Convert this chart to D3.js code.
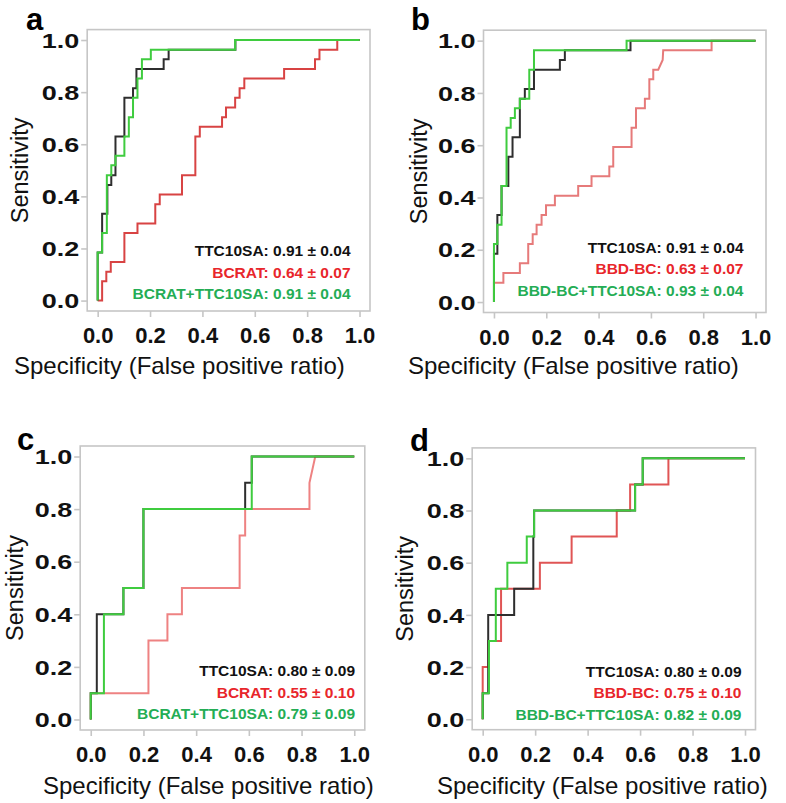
<!DOCTYPE html>
<html>
<head>
<meta charset="utf-8">
<script src="https://cdn.jsdelivr.net/npm/d3@7"></script>
<style>
  html, body { margin: 0; padding: 0; background: #fff; }
  svg { display: block; font-family: "Liberation Sans", Arial, sans-serif; }
</style>
</head>
<body>
<svg id="chart" width="786" height="803"></svg>
<script>
// ---------------- data ----------------
const tickValues = [0, 0.2, 0.4, 0.6, 0.8, 1.0];
const tickLabels = ["0.0", "0.2", "0.4", "0.6", "0.8", "1.0"];
const panelLetters = ["a", "b", "c", "d"];
const xTitle = "Specificity (False positive ratio)";
const yTitle = "Sensitivity";

// Panel a — [false positive ratio, sensitivity]
const aTTC = [[0,0],[0,0.185],[0.017,0.185],[0.017,0.333],[0.037,0.333],[0.037,0.444],[0.052,0.444],[0.052,0.481],[0.068,0.481],[0.068,0.63],[0.102,0.63],[0.102,0.778],[0.135,0.778],[0.135,0.815],[0.148,0.815],[0.148,0.889],[0.252,0.889],[0.252,0.926],[0.271,0.926],[0.271,0.963],[0.526,0.963],[0.526,1],[1,1]];
const aRisk = [[0,0],[0.017,0],[0.017,0.074],[0.033,0.074],[0.033,0.111],[0.05,0.111],[0.05,0.148],[0.102,0.148],[0.102,0.259],[0.152,0.259],[0.152,0.296],[0.22,0.296],[0.22,0.37],[0.237,0.37],[0.237,0.407],[0.322,0.407],[0.322,0.481],[0.373,0.481],[0.373,0.63],[0.39,0.63],[0.39,0.667],[0.475,0.667],[0.475,0.704],[0.49,0.704],[0.49,0.741],[0.525,0.741],[0.525,0.778],[0.542,0.778],[0.542,0.815],[0.56,0.815],[0.56,0.852],[0.712,0.852],[0.712,0.889],[0.83,0.889],[0.83,0.926],[0.847,0.926],[0.847,0.963],[0.915,0.963],[0.915,1],[1,1]];
const aComb = [[0,0],[0,0.185],[0.017,0.185],[0.017,0.259],[0.035,0.259],[0.035,0.481],[0.052,0.481],[0.052,0.519],[0.068,0.519],[0.068,0.556],[0.102,0.556],[0.102,0.63],[0.119,0.63],[0.119,0.704],[0.135,0.704],[0.135,0.778],[0.152,0.778],[0.152,0.852],[0.169,0.852],[0.169,0.926],[0.203,0.926],[0.203,0.963],[0.525,0.963],[0.525,1],[1,1]];

// Panel b
const bTTC = [[0,0],[0,0.185],[0.013,0.185],[0.013,0.333],[0.029,0.333],[0.029,0.444],[0.055,0.444],[0.055,0.556],[0.071,0.556],[0.071,0.63],[0.099,0.63],[0.099,0.778],[0.118,0.778],[0.118,0.815],[0.153,0.815],[0.153,0.889],[0.252,0.889],[0.252,0.926],[0.271,0.926],[0.271,0.963],[0.522,0.963],[0.522,1],[1,1]];
const bRisk = [[0,0],[0,0.074],[0.036,0.074],[0.036,0.111],[0.099,0.111],[0.099,0.148],[0.131,0.148],[0.131,0.222],[0.148,0.222],[0.148,0.259],[0.163,0.259],[0.163,0.296],[0.182,0.296],[0.182,0.333],[0.199,0.333],[0.199,0.37],[0.233,0.37],[0.233,0.407],[0.322,0.407],[0.322,0.444],[0.373,0.444],[0.373,0.481],[0.441,0.481],[0.441,0.519],[0.456,0.519],[0.456,0.593],[0.526,0.593],[0.526,0.667],[0.543,0.667],[0.543,0.741],[0.577,0.741],[0.577,0.778],[0.594,0.778],[0.594,0.852],[0.609,0.852],[0.609,0.889],[0.628,0.889],[0.645,0.926],[0.647,0.963],[0.832,0.963],[0.832,1],[1,1]];
const bComb = [[0,0],[0,0.222],[0.013,0.222],[0.013,0.296],[0.029,0.296],[0.029,0.444],[0.048,0.444],[0.048,0.667],[0.064,0.667],[0.064,0.704],[0.08,0.704],[0.08,0.741],[0.099,0.741],[0.099,0.778],[0.135,0.778],[0.135,0.889],[0.153,0.889],[0.153,0.963],[0.507,0.963],[0.507,1],[1,1]];

// Panel c
const cTTC = [[0,0],[0,0.1],[0.023,0.1],[0.023,0.4],[0.05,0.4],[0.124,0.4],[0.124,0.5],[0.2,0.5],[0.2,0.8],[0.586,0.8],[0.586,0.9],[0.611,0.9],[0.611,1],[1,1]];
const cRisk = [[0,0],[0,0.1],[0.219,0.1],[0.219,0.3],[0.291,0.3],[0.291,0.4],[0.346,0.4],[0.346,0.5],[0.565,0.5],[0.565,0.7],[0.586,0.7],[0.586,0.8],[0.83,0.8],[0.83,0.9],[0.852,1],[1,1]];
const cComb = [[0,0],[0,0.1],[0.05,0.1],[0.05,0.4],[0.124,0.4],[0.124,0.5],[0.2,0.5],[0.2,0.8],[0.611,0.8],[0.611,1],[1,1]];

// Panel d
const dTTC = [[0,0],[0,0.1],[0.021,0.1],[0.021,0.4],[0.12,0.4],[0.12,0.5],[0.193,0.5],[0.193,0.7],[0.196,0.7],[0.196,0.8],[0.581,0.8],[0.581,0.9],[0.61,0.9],[0.61,1],[1,1]];
const dRisk = [[0,0],[0,0.2],[0.021,0.2],[0.021,0.3],[0.07,0.3],[0.07,0.5],[0.218,0.5],[0.218,0.6],[0.339,0.6],[0.339,0.7],[0.511,0.7],[0.511,0.8],[0.562,0.8],[0.562,0.9],[0.708,0.9],[0.708,1],[1,1]];
const dComb = [[0,0],[0,0.1],[0.024,0.1],[0.024,0.3],[0.05,0.3],[0.05,0.5],[0.094,0.5],[0.094,0.6],[0.168,0.6],[0.168,0.7],[0.196,0.7],[0.196,0.8],[0.581,0.8],[0.581,0.9],[0.61,0.9],[0.61,1],[1,1]];

// Legend texts (AUC ± SE)
const aLegend = ["TTC10SA: 0.91 \u00b1 0.04", "BCRAT: 0.64 \u00b1 0.07", "BCRAT+TTC10SA: 0.91 \u00b1 0.04"];
const bLegend = ["TTC10SA: 0.91 \u00b1 0.04", "BBD-BC: 0.63 \u00b1 0.07", "BBD-BC+TTC10SA: 0.93 \u00b1 0.04"];
const cLegend = ["TTC10SA: 0.80 \u00b1 0.09", "BCRAT: 0.55 \u00b1 0.10", "BCRAT+TTC10SA: 0.79 \u00b1 0.09"];
const dLegend = ["TTC10SA: 0.80 \u00b1 0.09", "BBD-BC: 0.75 \u00b1 0.10", "BBD-BC+TTC10SA: 0.82 \u00b1 0.09"];

// ---------------- layout / style ----------------
const panels = [
  { letter: panelLetters[0], frame: {l: 87.2, r: 370, t: 29.6, b: 311}, series: [aRisk, aTTC, aComb], legend: aLegend, red: "#d84343",
    letterPos: [26, 30], yTitleX: 28, xTitleX: 14, xTitleY: 374, legendX: 350.5, legendY: 256 },
  { letter: panelLetters[1], frame: {l: 483.5, r: 766, t: 30.2, b: 312.5}, series: [bRisk, bTTC, bComb], legend: bLegend, red: "#e67a7a",
    letterPos: [411, 30], yTitleX: 427, xTitleX: 408, xTitleY: 374, legendX: 743.5, legendY: 252.5 },
  { letter: panelLetters[2], frame: {l: 80.2, r: 364.8, t: 446, b: 730}, series: [cRisk, cTTC, cComb], legend: cLegend, red: "#ee8282",
    letterPos: [17, 450], yTitleX: 23, xTitleX: 43, xTitleY: 794, legendX: 355, legendY: 676 },
  { letter: panelLetters[3], frame: {l: 472.2, r: 755.5, t: 447.9, b: 729.7}, series: [dRisk, dTTC, dComb], legend: dLegend, red: "#e05555",
    letterPos: [410, 451], yTitleX: 413, xTitleX: 437, xTitleY: 794, legendX: 741.5, legendY: 676.5 }
];

const blackLine = "#2e2e2e";
const greenLine = "#3fcc3f";
const legendColors = ["#111111", "#e8262b", "#24ad55"];
const frameColor = "#c6c6c6";

const svg = d3.select("#chart");

panels.forEach(p => {
  const f = p.frame;
  const x = d3.scaleLinear().domain([-0.04, 1.04]).range([f.l, f.r]);
  const y = d3.scaleLinear().domain([-0.04, 1.04]).range([f.b, f.t]);
  const g = svg.append("g");

  // frame
  g.append("rect")
    .attr("x", f.l).attr("y", f.t)
    .attr("width", f.r - f.l).attr("height", f.b - f.t)
    .attr("fill", "none").attr("stroke", frameColor).attr("stroke-width", 1.6);

  // y axis
  const yAxis = d3.axisLeft(y).tickValues(tickValues).tickSize(6).tickFormat("");
  const ya = g.append("g").attr("transform", `translate(${f.l},0)`).call(yAxis);
  ya.select(".domain").remove();
  ya.selectAll(".tick line").attr("stroke", frameColor).attr("stroke-width", 1.6);
  ya.selectAll(".tick").append("text")
    .attr("text-anchor", "end")
    .attr("transform", "translate(-8,0) scale(1.35,1)")
    .attr("dy", "0.36em")
    .attr("fill", "#111")
    .attr("font-weight", "bold")
    .attr("font-size", 20)
    .text((d, i) => tickLabels[i]);

  // x axis
  const xAxis = d3.axisBottom(x).tickValues(tickValues).tickSize(6).tickFormat("");
  const xa = g.append("g").attr("transform", `translate(0,${f.b})`).call(xAxis);
  xa.select(".domain").remove();
  xa.selectAll(".tick line").attr("stroke", frameColor).attr("stroke-width", 1.6);
  xa.selectAll(".tick").append("text")
    .attr("text-anchor", "middle")
    .attr("y", 32)
    .attr("fill", "#111")
    .attr("font-weight", "bold")
    .attr("font-size", 22)
    .text((d, i) => tickLabels[i]);

  // curves
  const line = d3.line().x(d => x(d[0])).y(d => y(d[1]));
  const colors = [p.red, blackLine, greenLine];
  p.series.forEach((s, i) => {
    g.append("path")
      .datum(s)
      .attr("d", line)
      .attr("fill", "none")
      .attr("stroke", colors[i])
      .attr("stroke-width", 2)
      .attr("stroke-linejoin", "miter");
  });

  // legend
  p.legend.forEach((t, i) => {
    g.append("text")
      .attr("x", p.legendX)
      .attr("y", p.legendY + i * 21.5)
      .attr("text-anchor", "end")
      .attr("font-weight", "bold")
      .attr("font-size", 15.5)
      .attr("fill", legendColors[i])
      .text(t);
  });

  // titles
  g.append("text")
    .attr("transform", `translate(${p.yTitleX},${(f.t + f.b) / 2}) rotate(-90)`)
    .attr("text-anchor", "middle")
    .attr("font-size", 23.5)
    .attr("fill", "#111")
    .text(yTitle);

  g.append("text")
    .attr("x", p.xTitleX).attr("y", p.xTitleY)
    .attr("font-size", 24)
    .attr("fill", "#111")
    .text(xTitle);

  g.append("text")
    .attr("x", p.letterPos[0]).attr("y", p.letterPos[1])
    .attr("font-weight", "bold")
    .attr("font-size", 31)
    .attr("fill", "#000")
    .text(p.letter);
});
</script>
</body>
</html>
